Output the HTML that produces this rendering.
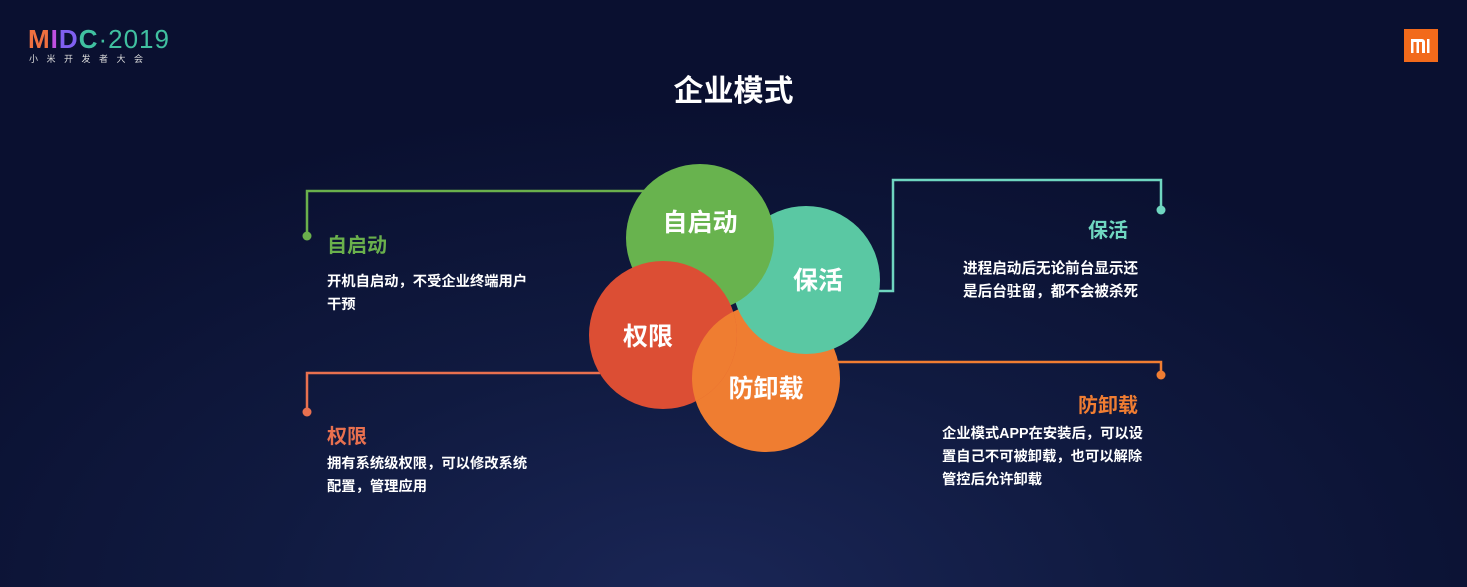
<!DOCTYPE html>
<html><head><meta charset="utf-8"><style>
html,body{margin:0;padding:0}
body{width:1467px;height:587px;overflow:hidden;background:radial-gradient(ellipse 900px 500px at 700px 600px,#1a2656 0%,#101a40 50%,#0a1030 100%);font-family:"Liberation Sans","Noto Sans CJK SC",sans-serif;position:relative;color:#fff}
.t{position:absolute;font-weight:bold;white-space:nowrap}
</style></head><body>
<svg width="1467" height="587" style="position:absolute;left:0;top:0">
<defs>
<clipPath id="cr"><circle cx="663" cy="335" r="74"/></clipPath>
</defs>
<g fill="none" stroke-width="2.5">
<polyline points="307,236 307,191 650,191" stroke="#6ab04c"/>
<polyline points="870,291 893,291 893,180 1161,180 1161,210" stroke="#6fd6c0"/>
<polyline points="307,412 307,373 600,373" stroke="#e8704f"/>
<polyline points="835,362 1161,362 1161,375" stroke="#f07d32"/>
</g>
<circle cx="307" cy="236" r="4.5" fill="#6ab04c"/>
<circle cx="1161" cy="210" r="4.5" fill="#6fd6c0"/>
<circle cx="307" cy="412" r="4.5" fill="#e8704f"/>
<circle cx="1161" cy="375" r="4.5" fill="#f07d32"/>
<circle cx="766" cy="378" r="74" fill="#ef7d31"/>
<circle cx="806" cy="280" r="74" fill="#5ac8a3"/>
<circle cx="700" cy="238" r="74" fill="#68b34e"/>
<circle cx="663" cy="335" r="74" fill="#dc4e34"/>
<circle cx="766" cy="378" r="74" fill="#ef7d31" clip-path="url(#cr)"/>
<text x="700" y="231" font-size="25" font-weight="bold" fill="#fff" text-anchor="middle" font-family="Liberation Sans,Noto Sans CJK SC,sans-serif">自启动</text>
<text x="818" y="289" font-size="25" font-weight="bold" fill="#fff" text-anchor="middle" font-family="Liberation Sans,Noto Sans CJK SC,sans-serif">保活</text>
<text x="648" y="345" font-size="25" font-weight="bold" fill="#fff" text-anchor="middle" font-family="Liberation Sans,Noto Sans CJK SC,sans-serif">权限</text>
<text x="766" y="397" font-size="25" font-weight="bold" fill="#fff" text-anchor="middle" font-family="Liberation Sans,Noto Sans CJK SC,sans-serif">防卸载</text>
<rect x="1404" y="29" width="34" height="33" fill="#f26a1b"/>
<g fill="#fff"><path d="M1411,39h11a3,3 0 0 1 3,3v11h-3v-11h-3v11h-2.5v-11h-3v11h-2.5z"/><rect x="1427" y="39" width="2.5" height="14"/></g>
</svg>
<div class="t" style="left:28px;top:24px;font-size:26px;letter-spacing:1px"><span style="color:#f07040">M</span><span style="color:#c050e0">I</span><span style="color:#8060f0">D</span><span style="color:#40c0a0">C</span><span style="color:#40c0a0;font-weight:normal">·2019</span></div>
<div class="t" style="left:29px;top:52px;font-size:9px;letter-spacing:8.5px;font-weight:normal;color:#ddd">小米开发者大会</div>
<div class="t" style="left:0;width:1467px;text-align:center;top:66px;font-size:30px">企业模式</div>
<div class="t" style="left:327px;top:229px;font-size:20px;color:#6ab04c">自启动</div>
<div class="t" style="left:327px;top:271px;font-size:14.3px;line-height:23px">开机自启动，不受企业终端用户<br>干预</div>
<div class="t" style="left:327px;top:420px;font-size:20px;color:#e8704f">权限</div>
<div class="t" style="left:327px;top:453px;font-size:14.3px;line-height:23px">拥有系统级权限，可以修改系统<br>配置，管理应用</div>
<div class="t" style="left:1088px;top:214px;font-size:20px;color:#6fd6c0">保活</div>
<div class="t" style="left:963px;top:258px;font-size:14.6px;line-height:23px">进程启动后无论前台显示还<br>是后台驻留，都不会被杀死</div>
<div class="t" style="left:1078px;top:389px;font-size:20px;color:#f07d32">防卸载</div>
<div class="t" style="left:942px;top:423px;font-size:14.3px;line-height:23px">企业模式APP在安装后，可以设<br>置自己不可被卸载，也可以解除<br>管控后允许卸载</div>
</body></html>
